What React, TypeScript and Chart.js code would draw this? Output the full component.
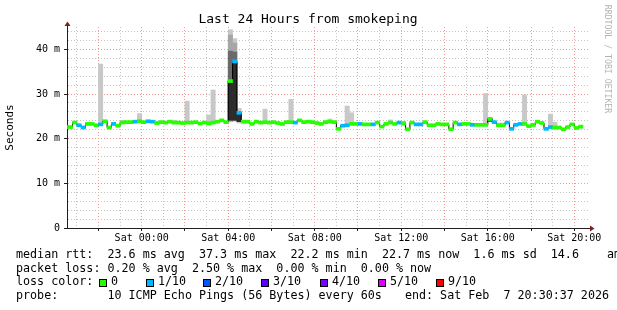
import React, { useEffect, useRef } from 'react';
import { Chart, registerables } from 'chart.js';

Chart.register(...registerables);

// time axis in hours since Fri 00:00; data buckets are 12 minutes long
const BUCKET_START_HOUR = 20.4;
const BUCKET_HOURS = 0.2;
const X_MIN = 20.546;
const X_MAX = 44.68;
const Y_MAX = 45;
const MEDIAN_HALF_THICKNESS = 0.34;

const medianRtt = [
  22.6, 22.6, 23.6, 23.0, 22.5, 23.3, 23.3, 23.0, 23.2, 23.9,
  22.5, 23.3, 22.9, 23.6, 23.7, 23.7, 23.8, 23.9, 23.7, 23.9,
  23.8, 23.5, 23.7, 23.6, 23.8, 23.6, 23.6, 23.5, 23.6, 23.6,
  23.7, 23.4, 23.6, 23.4, 23.6, 23.8, 24.1, 23.7, 32.9, 37.3,
  25.8, 23.8, 23.8, 23.3, 23.8, 23.6, 23.7, 23.6, 23.7, 23.5,
  23.3, 23.7, 23.7, 23.6, 24.1, 23.7, 23.8, 23.7, 23.5, 23.3,
  23.7, 23.8, 23.7, 22.2, 22.9, 23.0, 23.3, 23.3, 23.3, 23.2,
  23.2, 23.2, 23.6, 22.7, 23.3, 23.6, 23.3, 23.6, 23.4, 22.1,
  23.6, 23.2, 23.2, 23.7, 23.0, 23.0, 23.3, 23.2, 23.2, 22.1,
  23.6, 23.2, 23.3, 23.3, 23.1, 23.1, 23.1, 23.1, 24.4, 23.7,
  23.0, 23.0, 23.6, 22.2, 23.1, 23.3, 23.3, 22.8, 23.1, 23.8,
  23.5, 22.2, 22.6, 22.5, 22.5, 22.1, 22.6, 23.2, 22.4, 22.7,
];

const lossLevel = [
  0, 0, 0, 1, 1, 0, 0, 0, 1, 0,
  0, 1, 0, 0, 0, 0, 1, 0, 0, 1,
  1, 0, 0, 0, 0, 0, 0, 0, 0, 0,
  0, 0, 0, 0, 0, 0, 0, 0, 0, 1,
  1, 0, 0, 0, 0, 0, 0, 0, 0, 0,
  0, 0, 0, 1, 0, 0, 0, 0, 0, 0,
  0, 0, 0, 0, 1, 1, 0, 0, 1, 0,
  0, 1, 0, 0, 0, 0, 0, 1, 0, 0,
  0, 1, 1, 0, 0, 0, 0, 0, 0, 0,
  0, 1, 0, 0, 1, 0, 0, 0, 0, 1,
  0, 0, 1, 1, 1, 1, 0, 0, 0, 0,
  0, 1, 1, 0, 0, 0, 0, 0, 0, 0,
];

const lossColors = ['#26ff00', '#00b8ff', '#0059ff', '#5e00ff', '#7e00ff', '#dd00ff', '#ff0000'];
const lossLabels = ['0', '1/10', '2/10', '3/10', '4/10', '5/10', '9/10'];
const lossSwatchX = [99, 146, 203, 261, 320, 378, 436];

// smoke (ping spread), outer light layer
const smokeIndex = [8, 13, 17, 25, 28, 33, 34, 38, 39, 40, 46, 52, 61, 65, 66, 75, 78, 97, 98, 100, 101, 106, 108, 112, 113];
const smokeLow = [23.0, 23.4, 23.6, 23.4, 23.4, 23.2, 23.4, 23.8, 24.0, 23.5, 23.5, 23.5, 23.6, 22.8, 23.1, 23.4, 23.0, 22.9, 23.8, 22.9, 22.9, 23.1, 22.6, 22.3, 22.3];
const smokeHigh = [36.7, 24.1, 25.6, 24.1, 28.4, 25.3, 30.9, 44.4, 42.4, 26.8, 26.6, 28.8, 24.4, 27.3, 25.8, 24.2, 23.9, 30.1, 24.8, 23.5, 23.5, 29.8, 23.4, 25.5, 23.7];
// inner, darker layers
const smokeMidIndex = [38, 39];
const smokeMidLow = [24.0, 24.0];
const smokeMidHigh = [43.2, 41.4];
const smokeDarkIndex = [38, 39];
const smokeDarkLow = [24.0, 24.0];
const smokeDarkHigh = [39.6, 39.4];
const smokeCoreIndex = [38, 39, 40, 98];
const smokeCoreLow = [24.2, 24.2, 23.8, 23.9];
const smokeCoreHigh = [33.2, 37.0, 25.6, 24.5];

const xTickHours = [21, 22, 23, 24, 25, 26, 27, 28, 29, 30, 31, 32, 33, 34, 35, 36, 37, 38, 39, 40, 41, 42, 43, 44];
const xLabelHours = [24, 28, 32, 36, 40, 44];
const xTickLabels = ['Sat 00:00', 'Sat 04:00', 'Sat 08:00', 'Sat 12:00', 'Sat 16:00', 'Sat 20:00'];
const yTickValues = [0, 2, 4, 6, 8, 10, 12, 14, 16, 18, 20, 22, 24, 26, 28, 30, 32, 34, 36, 38, 40, 42, 44];
const yLabelValues = [0, 10, 20, 30, 40];
const yTickLabels = ['0', '10 m', '20 m', '30 m', '40 m'];

const titleText = 'Last 24 Hours from smokeping';
const watermarkText = 'RRDTOOL / TOBI OETIKER';
const legendMedian = 'median rtt:  23.6 ms avg  37.3 ms max  22.2 ms min  22.7 ms now  1.6 ms sd  14.6    am/as';
const legendLoss = 'packet loss: 0.20 % avg  2.50 % max  0.00 % min  0.00 % now';
const legendLossColor = 'loss color:';
const legendProbe = 'probe:       10 ICMP Echo Pings (56 Bytes) every 60s';
const legendEnd = 'end: Sat Feb  7 20:30:37 2026';

const FONT = "'DejaVu Sans Mono', monospace";
const GRID = '#c4c4c4';
const MGRID = '#f29a9a';
const AXIS = '#1f1f1f';
const ARROW = '#801f1f';

const bucketCenter = (i: number) => BUCKET_START_HOUR + BUCKET_HOURS * (i + 0.5);

function smokeData(idx: number[], lo: number[], hi: number[]) {
  return idx.map((k, j) => ({ x: bucketCenter(k), y: [lo[j], hi[j]] }));
}

const decorPlugin = {
  id: 'decor',
  beforeDraw(chart: any) {
    const { ctx, width, height } = chart;
    ctx.save();
    ctx.fillStyle = '#ffffff';
    ctx.fillRect(0, 0, width, height);
    ctx.restore();
  },
  afterDraw(chart: any) {
    const { ctx, chartArea: a } = chart;
    ctx.save();
    // axis extensions and arrows
    ctx.strokeStyle = AXIS;
    ctx.lineWidth = 1;
    ctx.beginPath();
    ctx.moveTo(a.right, a.bottom + 0.5);
    ctx.lineTo(a.right + 2, a.bottom + 0.5);
    ctx.moveTo(a.left + 0.5, a.top);
    ctx.lineTo(a.left + 0.5, a.top - 2);
    ctx.stroke();
    ctx.fillStyle = ARROW;
    ctx.beginPath();
    ctx.moveTo(a.right + 1, a.bottom - 2.5);
    ctx.lineTo(a.right + 5.5, a.bottom + 0.5);
    ctx.lineTo(a.right + 1, a.bottom + 3.5);
    ctx.closePath();
    ctx.fill();
    ctx.beginPath();
    ctx.moveTo(a.left - 2.5, a.top - 1);
    ctx.lineTo(a.left + 0.5, a.top - 5.5);
    ctx.lineTo(a.left + 3.5, a.top - 1);
    ctx.closePath();
    ctx.fill();

    // title
    ctx.fillStyle = '#000';
    ctx.font = `13px ${FONT}`;
    ctx.textAlign = 'center';
    ctx.textBaseline = 'middle';
    ctx.fillText(titleText, 308, 19.5);

    // watermark
    ctx.save();
    ctx.translate(607, 59);
    ctx.rotate(Math.PI / 2);
    ctx.fillStyle = '#b4b4b4';
    ctx.font = `8.2px ${FONT}`;
    ctx.fillText(watermarkText, 0, 0);
    ctx.restore();

    // legend
    ctx.fillStyle = '#000';
    ctx.font = `11.7px ${FONT}`;
    ctx.textAlign = 'left';
    ctx.textBaseline = 'middle';
    ctx.fillText(legendMedian, 16, 255);
    ctx.fillText(legendLoss, 16, 268.7);
    ctx.fillText(legendLossColor, 16, 282.4);
    ctx.fillText(legendProbe, 16, 296.1);
    ctx.textAlign = 'right';
    ctx.fillText(legendEnd, 609, 296.1);
    ctx.textAlign = 'left';
    lossLabels.forEach((lab, k) => {
      const x = lossSwatchX[k];
      ctx.fillStyle = lossColors[k];
      ctx.fillRect(x, 279, 8, 8);
      ctx.strokeStyle = '#000';
      ctx.lineWidth = 1;
      ctx.strokeRect(x + 0.5, 279.5, 7, 7);
      ctx.fillStyle = '#000';
      ctx.fillText(lab, x + 12, 282.4);
    });
    ctx.restore();
  },
};

export default function App() {
  const ref = useRef<HTMLCanvasElement | null>(null);

  useEffect(() => {
    if (!ref.current) return;
    Chart.defaults.font.family = FONT;
    const barCommon = {
      type: 'bar' as const,
      grouped: false,
      barPercentage: 1,
      categoryPercentage: 1,
      borderWidth: 0,
      clip: 0,
    };
    const chart = new Chart(ref.current, {
      type: 'line',
      data: {
        datasets: [
          { ...barCommon, label: 'smoke', order: 13, backgroundColor: '#c8c8c8', data: smokeData(smokeIndex, smokeLow, smokeHigh) },
          { ...barCommon, label: 'smoke2', order: 12, backgroundColor: '#a6a6a6', data: smokeData(smokeMidIndex, smokeMidLow, smokeMidHigh) },
          { ...barCommon, label: 'smoke3', order: 11, backgroundColor: '#6a6a6a', data: smokeData(smokeDarkIndex, smokeDarkLow, smokeDarkHigh) },
          { ...barCommon, label: 'smoke4', order: 10, backgroundColor: '#2c2c2c', data: smokeData(smokeCoreIndex, smokeCoreLow, smokeCoreHigh) },
          {
            type: 'line',
            label: 'median step',
            order: 2,
            data: medianRtt.map((m, i) => ({ x: bucketCenter(i), y: m })),
            borderColor: '#000',
            borderWidth: 1,
            pointRadius: 0,
            stepped: 'middle',
            clip: 0,
          },
          {
            ...barCommon,
            label: 'median',
            order: 1,
            data: medianRtt.map((m, i) => ({ x: bucketCenter(i), y: [m - MEDIAN_HALF_THICKNESS, m + MEDIAN_HALF_THICKNESS] })),
            backgroundColor: lossLevel.map((l) => lossColors[l]),
          },
        ] as any,
      },
      options: {
        responsive: false,
        animation: false,
        events: [],
        layout: { padding: { left: 0, top: 27, right: 28, bottom: 62 } },
        plugins: { legend: { display: false }, tooltip: { enabled: false }, title: { display: false } },
        scales: {
          x: {
            type: 'linear',
            min: X_MIN,
            max: X_MAX,
            offset: false,
            afterBuildTicks: (s: any) => {
              s.ticks = xTickHours.map((v) => ({ value: v }));
            },
            afterFit: (s: any) => {
              s.height = 20;
            },
            ticks: {
              autoSkip: false,
              maxRotation: 0,
              padding: 1,
              color: '#000',
              font: { size: 10, family: FONT },
              callback: (v: any) => {
                const k = xLabelHours.indexOf(Number(v));
                return k >= 0 ? xTickLabels[k] : '';
              },
            },
            grid: {
              offset: false,
              lineWidth: 1,
              color: (c: any) => (c.tick && c.tick.value % 2 === 0 ? MGRID : GRID),
              drawTicks: true,
              tickLength: 3,
              tickColor: (c: any) => (c.tick && c.tick.value % 2 === 0 ? AXIS : 'rgba(0,0,0,0)'),
            },
            border: { display: true, color: AXIS, width: 1, dash: [1, 2] },
          },
          y: {
            type: 'linear',
            min: 0,
            max: Y_MAX,
            afterBuildTicks: (s: any) => {
              s.ticks = yTickValues.map((v) => ({ value: v }));
            },
            afterFit: (s: any) => {
              s.width = 67;
            },
            ticks: {
              autoSkip: false,
              padding: 4,
              color: '#000',
              font: { size: 10, family: FONT },
              callback: (v: any) => {
                const k = yLabelValues.indexOf(Number(v));
                return k >= 0 ? yTickLabels[k] : '';
              },
            },
            grid: {
              lineWidth: 1,
              color: (c: any) => (c.tick && c.tick.value % 10 === 0 ? MGRID : GRID),
              drawTicks: true,
              tickLength: 3,
              tickColor: (c: any) => (c.tick && c.tick.value % 10 === 0 ? AXIS : 'rgba(0,0,0,0)'),
            },
            border: { display: true, color: AXIS, width: 1, dash: [1, 2] },
            title: {
              display: true,
              text: 'Seconds',
              color: '#000',
              font: { size: 11, family: FONT },
              padding: { top: 4, bottom: 4 },
            },
          },
        },
      } as any,
      plugins: [decorPlugin],
    });
    return () => chart.destroy();
  }, []);

  return (
    <div style={{ position: 'fixed', left: 0, top: 0, width: 617, height: 310, background: '#fff' }}>
      <canvas ref={ref} width={617} height={310} style={{ display: 'block', width: 617, height: 310 }} />
    </div>
  );
}
